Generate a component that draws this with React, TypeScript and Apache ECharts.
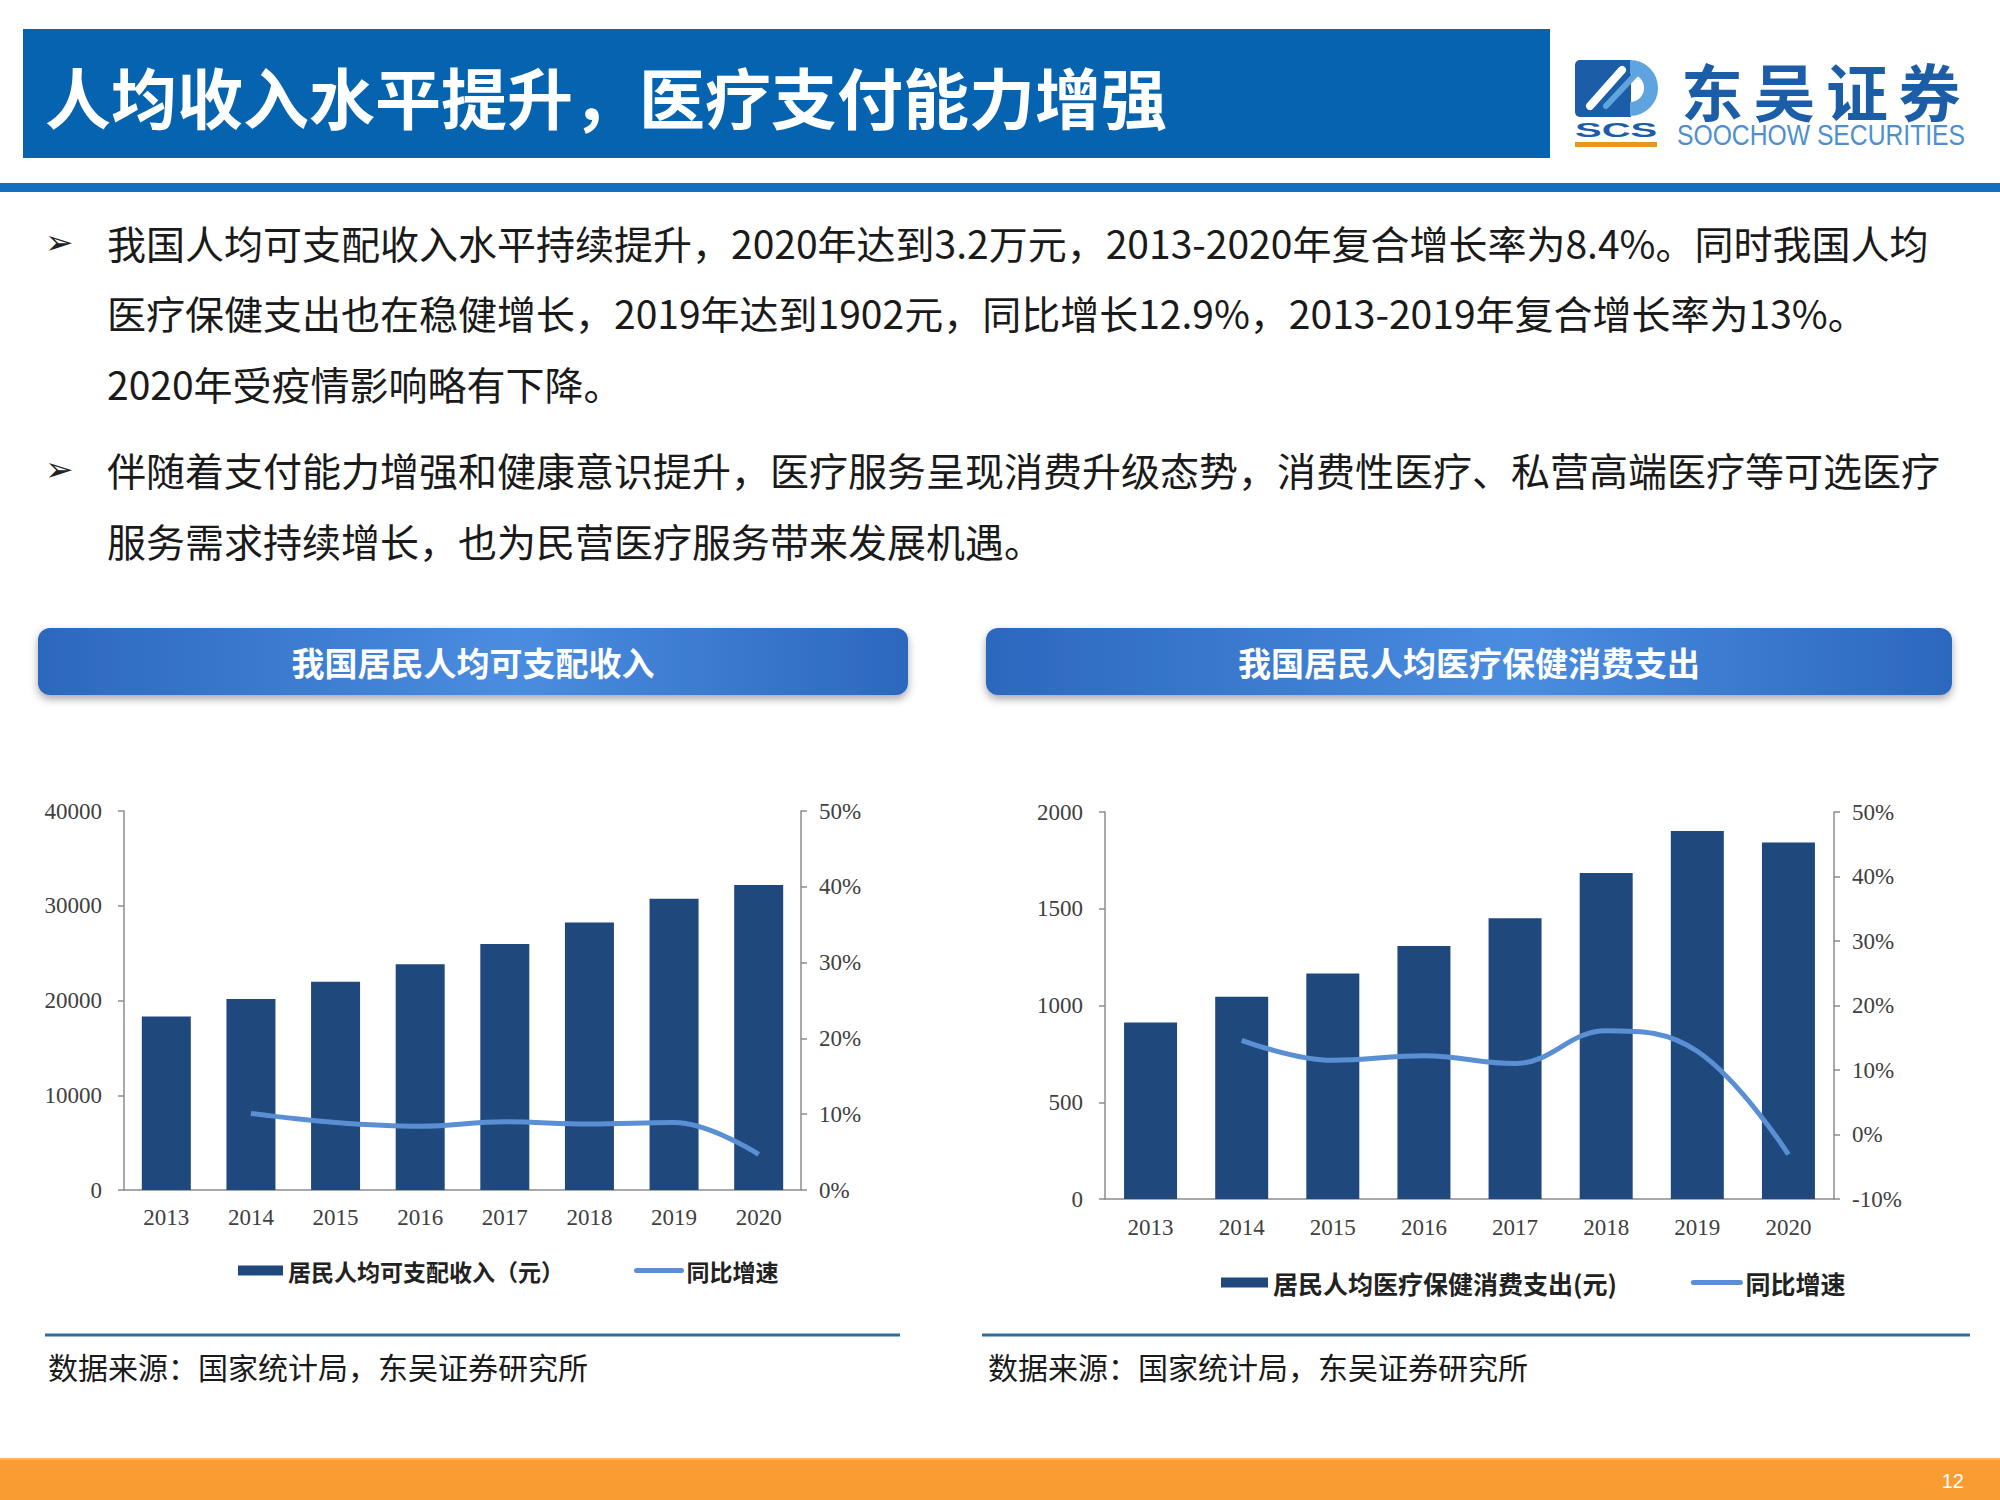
import React, { useEffect, useRef } from 'react';
import * as echarts from 'echarts';

const years = ['2013', '2014', '2015', '2016', '2017', '2018', '2019', '2020'];
const incomeValues = [18311, 20167, 21966, 23821, 25974, 28228, 30733, 32189];
const incomeGrowth = [null, 10.1, 8.9, 8.4, 9.0, 8.7, 8.9, 4.7];
const healthValues = [912, 1045, 1165, 1307, 1451, 1685, 1902, 1843];
const healthGrowth = [null, 14.6, 11.5, 12.2, 11.0, 16.1, 12.9, -3.1];

const incomeName = '居民人均可支配收入（元）';
const healthName = '居民人均医疗保健消费支出(元)';
const growthName = '同比增速';

const pageTitle = '人均收入水平提升，医疗支付能力增强';
const chartTitles = ['我国居民人均可支配收入', '我国居民人均医疗保健消费支出'];
const sourceText = '数据来源：国家统计局，东吴证券研究所';
const bodyLines = [
  '我国人均可支配收入水平持续提升，2020年达到3.2万元，2013-2020年复合增长率为8.4%。同时我国人均',
  '医疗保健支出也在稳健增长，2019年达到1902元，同比增长12.9%，2013-2019年复合增长率为13%。',
  '2020年受疫情影响略有下降。',
  '伴随着支付能力增强和健康意识提升，医疗服务呈现消费升级态势，消费性医疗、私营高端医疗等可选医疗',
  '服务需求持续增长，也为民营医疗服务带来发展机遇。',
];
const bodyLineY = [242, 312, 383, 469, 540];
const bulletLineY = [242, 469];
const logoChars = ['东', '吴', '证', '券'];

const BAR = '#1F497D';
const LINE = '#5B8FD4';
const AXIS = '#8c8c8c';
const CJK = 'Noto Sans CJK SC';

function buildOption() {
  const axisLabel = { fontFamily: 'Liberation Serif', fontSize: 23, color: '#404040' };
  const axisLine = { show: true, onZero: false, lineStyle: { color: AXIS, width: 1.5 } };
  const tick = { show: true, length: 6, lineStyle: { color: AXIS, width: 1.5 } };
  const plain = (v: number) => String(v);
  const pct = (v: number) => v + '%';

  const graphic: any[] = [];
  // header
  graphic.push({ type: 'rect', shape: { x: 23, y: 29, width: 1527, height: 129 }, style: { fill: '#0563B0' } });
  graphic.push({
    type: 'text', x: 45, y: 95,
    style: { text: pageTitle, fill: '#fff', fontSize: 66, fontWeight: 'bold', fontFamily: CJK, textVerticalAlign: 'middle' },
  });
  graphic.push({ type: 'rect', shape: { x: 0, y: 183, width: 2000, height: 9 }, style: { fill: '#1270C0' } });

  // logo
  graphic.push({ type: 'rect', shape: { x: 1575, y: 60, width: 56, height: 57, r: [5, 0, 0, 5] }, style: { fill: '#1C5DA8' } });
  graphic.push({
    type: 'arc', shape: { cx: 1630, cy: 88, r: 21, startAngle: -Math.PI / 2, endAngle: Math.PI / 2 },
    style: { stroke: '#5FA4DE', lineWidth: 14, fill: 'none' },
  });
  graphic.push({ type: 'line', shape: { x1: 1590, y1: 106, x2: 1622, y2: 70 }, style: { stroke: '#fff', lineWidth: 8, lineCap: 'round' } });
  graphic.push({ type: 'line', shape: { x1: 1606, y1: 106, x2: 1636, y2: 74 }, style: { stroke: '#5FA4DE', lineWidth: 6, lineCap: 'round' } });
  graphic.push({
    type: 'text', x: 1575, y: 130, scaleX: 2,
    style: { text: 'SCS', fill: '#1C5DA8', fontSize: 20, fontWeight: 'bold', fontFamily: 'Liberation Sans', textVerticalAlign: 'middle' },
  });
  graphic.push({ type: 'rect', shape: { x: 1575, y: 142, width: 82, height: 5 }, style: { fill: '#E8961E' } });
  logoChars.forEach((c, i) => {
    graphic.push({
      type: 'text', x: 1712 + i * 72.5, y: 90,
      style: { text: c, fill: '#1C5DA8', fontSize: 62, fontWeight: 'bold', fontFamily: CJK, textAlign: 'center', textVerticalAlign: 'middle' },
    });
  });
  graphic.push({
    type: 'text', x: 1677, y: 135, scaleX: 0.823,
    style: { text: 'SOOCHOW SECURITIES', fill: '#4F8FCF', fontSize: 30, fontFamily: 'Liberation Sans', textVerticalAlign: 'middle' },
  });

  // body text
  bulletLineY.forEach((y) => {
    graphic.push({
      type: 'text', x: 45, y,
      style: { text: '➢', fill: '#222', fontSize: 34, fontFamily: 'DejaVu Sans', textVerticalAlign: 'middle' },
    });
  });
  bodyLines.forEach((t, i) => {
    graphic.push({
      type: 'text', x: 107, y: bodyLineY[i],
      style: { text: t, fill: '#1a1a1a', fontSize: 39, fontFamily: CJK, textVerticalAlign: 'middle' },
    });
  });

  // chart title bars
  const bars = [
    { x: 38, w: 870 },
    { x: 986, w: 966 },
  ];
  bars.forEach((b, i) => {
    graphic.push({
      type: 'rect', shape: { x: b.x, y: 628, width: b.w, height: 67, r: 12 },
      style: {
        fill: new echarts.graphic.LinearGradient(0, 0, 1, 0, [
          { offset: 0, color: '#2C68BE' },
          { offset: 0.55, color: '#4A8DE0' },
          { offset: 1, color: '#2C68BE' },
        ]),
        shadowBlur: 8, shadowColor: 'rgba(0,0,0,0.35)', shadowOffsetY: 4,
      },
    });
    graphic.push({
      type: 'text', x: b.x + b.w / 2, y: 662,
      style: { text: chartTitles[i], fill: '#fff', fontSize: 33, fontWeight: 'bold', fontFamily: CJK, textAlign: 'center', textVerticalAlign: 'middle' },
    });
  });

  // source lines
  const srcs = [
    { x1: 45, x2: 900, tx: 48 },
    { x1: 982, x2: 1970, tx: 988 },
  ];
  srcs.forEach((s) => {
    graphic.push({ type: 'line', shape: { x1: s.x1, y1: 1335, x2: s.x2, y2: 1335 }, style: { stroke: '#2E6DA4', lineWidth: 3 } });
    graphic.push({
      type: 'text', x: s.tx, y: 1366,
      style: { text: sourceText, fill: '#1a1a1a', fontSize: 30, fontFamily: CJK, textVerticalAlign: 'middle' },
    });
  });

  // footer
  graphic.push({ type: 'rect', shape: { x: 0, y: 1458, width: 2000, height: 42 }, style: { fill: '#F99D33' } });
  graphic.push({ type: 'rect', shape: { x: 0, y: 1458, width: 2000, height: 2 }, style: { fill: '#FBB767' } });
  graphic.push({
    type: 'text', x: 1964, y: 1481,
    style: { text: '12', fill: '#fff', fontSize: 20, fontFamily: 'Liberation Sans', textAlign: 'right', textVerticalAlign: 'middle' },
  });

  const legendText = { fontFamily: CJK, fontSize: 23, fontWeight: 'bold', color: '#222' };
  const lineLegendItem = {
    name: growthName,
    itemStyle: { color: 'rgba(0,0,0,0)', borderColor: 'rgba(0,0,0,0)', borderWidth: 0 },
    lineStyle: { color: LINE, width: 5, cap: 'round' },
  };

  return {
    animation: false,
    backgroundColor: '#ffffff',
    graphic,
    legend: [
      {
        left: 233, top: 1254, itemWidth: 45, itemHeight: 10, itemGap: 70,
        data: [{ name: incomeName, icon: 'rect' }, lineLegendItem],
        textStyle: legendText,
      },
      {
        left: 1216, top: 1265, itemWidth: 47, itemHeight: 10, itemGap: 74,
        data: [{ name: healthName, icon: 'rect' }, lineLegendItem],
        textStyle: { ...legendText, fontSize: 25 },
      },
    ],
    grid: [
      { left: 124, top: 811, width: 677, height: 379 },
      { left: 1105, top: 812, width: 729, height: 387 },
    ],
    xAxis: [
      { type: 'category', gridIndex: 0, data: years, axisLine, axisTick: { show: false }, axisLabel: { ...axisLabel, margin: 16 } },
      { type: 'category', gridIndex: 1, data: years, axisLine, axisTick: { show: false }, axisLabel: { ...axisLabel, margin: 17 } },
    ],
    yAxis: [
      {
        type: 'value', gridIndex: 0, position: 'left', min: 0, max: 40000, interval: 10000,
        axisLine, axisTick: tick, splitLine: { show: false }, axisLabel: { ...axisLabel, margin: 22, formatter: plain },
      },
      {
        type: 'value', gridIndex: 0, position: 'right', min: 0, max: 50, interval: 10,
        axisLine, axisTick: tick, splitLine: { show: false }, axisLabel: { ...axisLabel, margin: 18, formatter: pct },
      },
      {
        type: 'value', gridIndex: 1, position: 'left', min: 0, max: 2000, interval: 500,
        axisLine, axisTick: tick, splitLine: { show: false }, axisLabel: { ...axisLabel, margin: 22, formatter: plain },
      },
      {
        type: 'value', gridIndex: 1, position: 'right', min: -10, max: 50, interval: 10,
        axisLine, axisTick: tick, splitLine: { show: false }, axisLabel: { ...axisLabel, margin: 18, formatter: pct },
      },
    ],
    series: [
      { name: incomeName, type: 'bar', xAxisIndex: 0, yAxisIndex: 0, data: incomeValues, barWidth: 49, itemStyle: { color: BAR } },
      {
        name: growthName, type: 'line', xAxisIndex: 0, yAxisIndex: 1, data: incomeGrowth, smooth: 0.4, symbol: 'none',
        lineStyle: { color: LINE, width: 5 }, itemStyle: { color: LINE },
      },
      { name: healthName, type: 'bar', xAxisIndex: 1, yAxisIndex: 2, data: healthValues, barWidth: 53, itemStyle: { color: BAR } },
      {
        name: growthName, type: 'line', xAxisIndex: 1, yAxisIndex: 3, data: healthGrowth, smooth: 0.4, symbol: 'none',
        lineStyle: { color: LINE, width: 5 }, itemStyle: { color: LINE },
      },
    ],
  };
}

export default function App() {
  const ref = useRef<HTMLDivElement>(null);
  useEffect(() => {
    if (!ref.current) return;
    const chart = echarts.init(ref.current, null, { renderer: 'svg' });
    chart.setOption(buildOption() as any);
    return () => chart.dispose();
  }, []);
  return <div ref={ref} style={{ position: 'absolute', left: 0, top: 0, width: 2000, height: 1500 }} />;
}
